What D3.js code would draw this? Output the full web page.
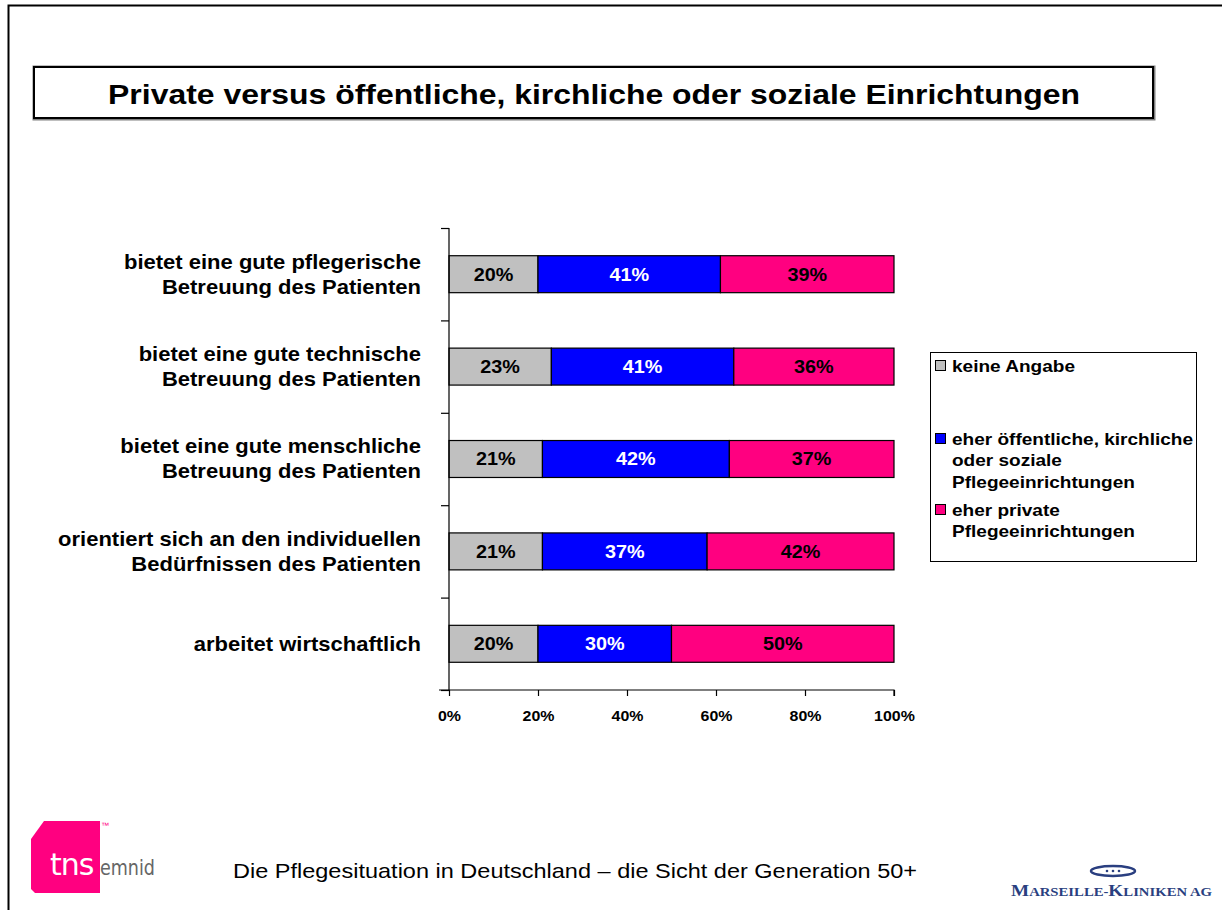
<!DOCTYPE html>
<html><head><meta charset="utf-8">
<script src="https://cdn.jsdelivr.net/npm/d3@7"></script>
<style>
html,body{margin:0;padding:0;background:#fff;}
svg{display:block;font-family:"Liberation Sans",Arial,sans-serif;}
</style></head>
<body>
<svg id="chart" width="1222" height="910"></svg>
<script>
const categories = [
  ["bietet eine gute pflegerische", "Betreuung des Patienten"],
  ["bietet eine gute technische", "Betreuung des Patienten"],
  ["bietet eine gute menschliche", "Betreuung des Patienten"],
  ["orientiert sich an den individuellen", "Bedürfnissen des Patienten"],
  ["arbeitet wirtschaftlich"]
];
const keineAngabe = [20, 23, 21, 21, 20];
const oeffentlich = [41, 41, 42, 37, 30];
const privat = [39, 36, 37, 42, 50];
const seriesNames = [
  ["keine Angabe"],
  ["eher öffentliche, kirchliche", "oder soziale", "Pflegeeinrichtungen"],
  ["eher private", "Pflegeeinrichtungen"]
];
const xTicks = [0, 20, 40, 60, 80, 100];
const title = "Private versus öffentliche, kirchliche oder soziale Einrichtungen";
const footer = "Die Pflegesituation in Deutschland – die Sicht der Generation 50+";

const colors = ["#C0C0C0", "#0000FF", "#FF0080"];
const labelColors = ["#000", "#fff", "#000"];
const svg = d3.select("#chart");

function stretch(sel, sx, ax) {
  sel.attr("transform", `translate(${ax},0) scale(${sx},1) translate(${-ax},0)`);
  return sel;
}

// outer frame
svg.append("path").attr("d", "M8.5,912 V5.5 H1224").attr("fill", "none").attr("stroke", "#000").attr("stroke-width", 2);

// title box
svg.append("rect").attr("x", 34).attr("y", 67).attr("width", 1120).attr("height", 52)
  .attr("fill", "#fff").attr("stroke", "#808080").attr("stroke-width", 3);
svg.append("rect").attr("x", 34).attr("y", 67).attr("width", 1119).attr("height", 51)
  .attr("fill", "#fff").attr("stroke", "#000").attr("stroke-width", 2);
stretch(svg.append("text").attr("x", 594).attr("y", 104).attr("text-anchor", "middle")
  .attr("font-size", 28).attr("font-weight", "bold").text(title), 1.14, 594);

// scales
const x = d3.scaleLinear().domain([0, 100]).range([449, 894]);
const y = d3.scaleBand().domain(d3.range(categories.length)).range([228, 690]).paddingInner(0.6).paddingOuter(0.3);

const series = [keineAngabe, oeffentlich, privat];
const stack = categories.map((c, i) => {
  let acc = 0;
  return series.map((s, k) => { const d = {i, k, x0: acc, x1: acc + s[i], v: s[i]}; acc += s[i]; return d; });
});

const g = svg.append("g");
stack.forEach(row => {
  row.forEach(d => {
    g.append("rect").attr("x", x(d.x0)).attr("y", y(d.i)).attr("width", x(d.x1) - x(d.x0)).attr("height", y.bandwidth())
      .attr("fill", colors[d.k]).attr("stroke", "#000").attr("stroke-width", 1.2);
    const cx = (x(d.x0) + x(d.x1)) / 2;
    stretch(g.append("text").attr("x", cx).attr("y", y(d.i) + y.bandwidth() / 2 + 6.5)
      .attr("text-anchor", "middle").attr("font-size", 18).attr("font-weight", "bold")
      .attr("fill", labelColors[d.k]).text(d.v + "%"), 1.1, cx);
  });
});

// axes
const yAxisScale = d3.scaleLinear().domain([0, categories.length]).range([228, 690]);
const yAxis = d3.axisLeft(yAxisScale).tickValues(d3.range(categories.length + 1)).tickSize(8).tickFormat("");
const ya = svg.append("g").attr("transform", "translate(449,0)").call(yAxis);
ya.select(".domain").attr("stroke", "#000").attr("stroke-width", 1.2).attr("d", "M-8,228.5H0V690");
ya.selectAll(".tick line").attr("stroke", "#000").attr("stroke-width", 1.2);

const xAxis = d3.axisBottom(x).tickValues(xTicks).tickSize(6).tickFormat(d => d + "%");
const xa = svg.append("g").attr("transform", "translate(0,690)").call(xAxis);
xa.select(".domain").attr("stroke", "#000").attr("stroke-width", 1.2).attr("d", "M439,0H894V6");
xa.selectAll(".tick line").attr("stroke", "#000").attr("stroke-width", 1.2);
xa.selectAll(".tick text").attr("font-size", 14).attr("font-weight", "bold").attr("font-family", "Liberation Sans, Arial, sans-serif")
  .attr("fill", "#000").attr("y", 0).attr("dy", 31).attr("transform", "scale(1.14,1)");

// category labels
categories.forEach((lines, i) => {
  const cy = y(i) + y.bandwidth() / 2;
  const t = svg.append("text").attr("text-anchor", "end").attr("font-size", 20).attr("font-weight", "bold");
  const lh = 25;
  const start = cy - (lines.length - 1) * lh / 2 + 7;
  lines.forEach((l, j) => t.append("tspan").attr("x", 421).attr("y", start + j * lh).text(l));
  stretch(t, 1.1, 421);
});

// legend
svg.append("rect").attr("x", 930.5).attr("y", 352.5).attr("width", 266).attr("height", 209)
  .attr("fill", "#fff").attr("stroke", "#000").attr("stroke-width", 1);
const legY = [372, 445, 516];
seriesNames.forEach((lines, k) => {
  svg.append("rect").attr("x", 935.5).attr("y", legY[k] - 11.5).attr("width", 10).attr("height", 10)
    .attr("fill", colors[k]).attr("stroke", "#000").attr("stroke-width", 1);
  const t = svg.append("text").attr("font-size", 17).attr("font-weight", "bold");
  lines.forEach((l, j) => t.append("tspan").attr("x", 952).attr("y", legY[k] + j * 21.5).text(l));
  stretch(t, 1.12, 952);
});

// footer
stretch(svg.append("text").attr("x", 233).attr("y", 878).attr("font-size", 21).text(footer), 1.12, 233);

// tns emnid logo
svg.append("path").attr("d", "M44,821 H100 V893 H35 L31,889 V839 Z").attr("fill", "#FF0080");
svg.append("text").attr("x", 50).attr("y", 875).attr("font-size", 30).attr("fill", "#fff")
  .attr("font-family", "DejaVu Sans, sans-serif").attr("letter-spacing", -1).text("tns");
svg.append("text").attr("x", 103).attr("y", 874).attr("font-size", 8).attr("fill", "#FF0080").attr("x", 101).attr("y", 828).text("™");
svg.append("text").attr("x", 100).attr("y", 875).attr("font-size", 22).attr("fill", "#666")
  .attr("font-family", "DejaVu Sans Condensed, DejaVu Sans, sans-serif")
  .attr("textLength", 55).attr("lengthAdjust", "spacingAndGlyphs").text("emnid");

// Marseille-Kliniken logo
svg.append("ellipse").attr("cx", 1113).attr("cy", 871).attr("rx", 22).attr("ry", 5)
  .attr("fill", "#fff").attr("stroke", "#2a3f80").attr("stroke-width", 2.5);
[-6, 0, 6].forEach(dx => svg.append("circle").attr("cx", 1113 + dx).attr("cy", 871).attr("r", 1.3).attr("fill", "#2a3f80"));
const mk = svg.append("text").attr("x", 1011).attr("y", 896).attr("fill", "#2a3f80")
  .attr("font-family", "Liberation Serif, serif").attr("font-weight", "bold")
  .attr("textLength", 201).attr("lengthAdjust", "spacingAndGlyphs");
[["M", 17], ["ARSEILLE-", 13], ["K", 17], ["LINIKEN AG", 13]].forEach(([s, fs]) => mk.append("tspan").attr("font-size", fs).text(s));
</script>
</body></html>
